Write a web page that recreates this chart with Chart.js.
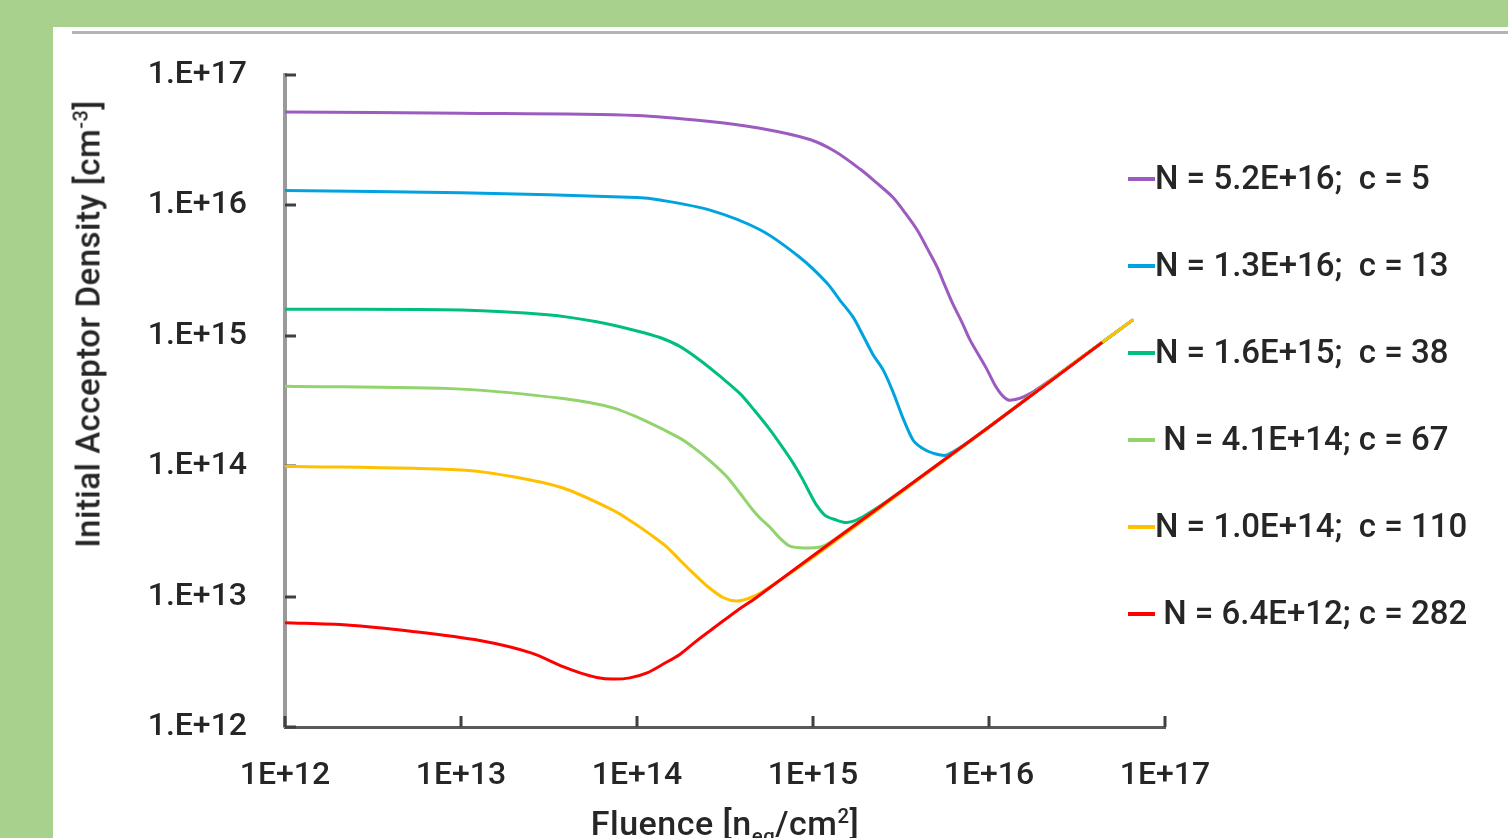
<!DOCTYPE html>
<html>
<head>
<meta charset="utf-8">
<title>Initial Acceptor Density vs Fluence</title>
<script src="https://cdn.jsdelivr.net/npm/chart.js@4.4.0/dist/chart.umd.min.js"></script>
<style>
    html, body { margin: 0; padding: 0; }
    body { width: 1508px; height: 838px; background: #a9d18e; position: relative; overflow: hidden;
           font-family: Roboto, "Open Sans", sans-serif; font-weight: 500; color: #262626; }
    #panel { position: absolute; left: 53px; top: 27px; right: 0; bottom: 0; background: #fff; }
    #rule { position: absolute; left: 72px; top: 31px; right: 0; height: 3px; background: #b4b4b4; }
    #chart { position: absolute; left: 0; top: 0; }
    #ytitle { position: absolute; left: 88px; top: 324px; transform: translate(-50%, -50%) rotate(-90deg);
              white-space: nowrap; font-size: 33px; letter-spacing: 0.5px; line-height: 1; }
    #xtitle { position: absolute; left: 725px; top: 806px; transform: translateX(-50%);
              white-space: nowrap; font-size: 34px; letter-spacing: 0.5px; line-height: 1; }
    sup, sub { font-size: 60%; line-height: 0; }
    .item { position: absolute; left: 1128px; white-space: pre; font-size: 33px; line-height: 32px; height: 32px; }
    .swatch { display: inline-block; width: 27px; height: 4px; vertical-align: middle; margin-top: -2px; }
</style>
</head>
<body>
<div id="panel"></div>
<div id="rule"></div>
<canvas id="chart" width="1508" height="838"></canvas>
<div id="ytitle">Initial Acceptor Density [cm<sup>-3</sup>]</div>
<div id="xtitle">Fluence [n<sub>eq</sub>/cm<sup>2</sup>]</div>
<div id="legend"></div>
<script>
// ejes
var fluenceTicks = [1e12, 1e13, 1e14, 1e15, 1e16, 1e17];
var xTickLabels = ['1E+12', '1E+13', '1E+14', '1E+15', '1E+16', '1E+17'];
var densityTicks = [1e12, 1e13, 1e14, 1e15, 1e16, 1e17];
var yTickLabels = ['1.E+12', '1.E+13', '1.E+14', '1.E+15', '1.E+16', '1.E+17'];

// series
var seriesNames = ['N = 5.2E+16;  c = 5', 'N = 1.3E+16;  c = 13', 'N = 1.6E+15;  c = 38',
                   ' N = 4.1E+14; c = 67', 'N = 1.0E+14;  c = 110', ' N = 6.4E+12; c = 282'];

var purpleFluence = [1e12, 1e13, 1e14, 2.6e14, 5.0e14, 9.6e14, 1.33e15, 1.85e15, 2.31e15, 2.85e15, 3.33e15, 3.9e15, 4.45e15,
                     5.07e15, 5.6e15, 6.2e15, 7.0e15, 7.8e15, 8.8e15, 9.75e15, 1.08e16, 1.2e16, 1.32e16, 1.71e16, 3e16, 6.6e16];
var purpleDensity = [5.2e16, 5.1e16, 4.9e16, 4.4e16, 3.9e16, 3.2e16, 2.6e16, 1.9e16, 1.48e16, 1.15e16, 8.8e15, 6.5e15, 4.7e15,
                     3.37e15, 2.45e15, 1.78e15, 1.28e15, 9.3e14, 7.0e14, 5.5e14, 4.2e14, 3.45e14, 3.2e14, 3.6e14, 6.1e14, 1.33e15];

var blueFluence = [1e12, 1e13, 1e14, 1.35e14, 2.6e14, 5.0e14, 8.4e14, 1.2e15, 1.42e15, 1.69e15, 1.92e15, 2.19e15, 2.5e15,
                   2.85e15, 3.24e15, 3.7e15, 4.16e15, 4.8e15, 5.8e15, 1e16, 3e16, 6.6e16];
var blueDensity = [1.3e16, 1.25e16, 1.15e16, 1.1e16, 9.2e15, 6.5e15, 4.0e15, 2.54e15, 1.88e15, 1.39e15, 1.01e15, 7.2e14, 5.5e14,
                   3.7e14, 2.35e14, 1.59e14, 1.38e14, 1.26e14, 1.22e14, 2.0e14, 6.1e14, 1.33e15];

var greenFluence = [1e12, 1e13, 3.1e13, 5.9e13, 1e14, 1.35e14, 1.75e14, 2.28e14, 2.96e14, 3.85e14, 4.68e14, 5.7e14, 6.7e14,
                    7.7e14, 8.7e14, 9.6e14, 1.05e15, 1.17e15, 1.33e15, 1.56e15, 1.92e15, 3e15, 1e16, 3e16, 6.6e16];
var greenDensity = [1.6e15, 1.58e15, 1.45e15, 1.28e15, 1.09e15, 9.7e14, 8.3e14, 6.5e14, 4.9e14, 3.6e14, 2.65e14, 1.9e14, 1.4e14,
                    1.06e14, 8.0e13, 6.2e13, 5.0e13, 4.2e13, 3.9e13, 3.7e13, 4.1e13, 6.1e13, 2.0e14, 6.1e14, 1.33e15];

var lightFluence = [1e12, 1e13, 3.8e13, 7.3e13, 1.14e14, 1.75e14, 2.08e14, 2.6e14, 3.24e14, 3.85e14, 4.56e14, 5.1e14, 5.7e14,
                    6.5e14, 7.4e14, 9.0e14, 1.1e15, 1.25e15, 3e15, 1e16, 3e16, 6.6e16];
var lightDensity = [4.1e14, 3.9e14, 3.3e14, 2.8e14, 2.2e14, 1.64e14, 1.4e14, 1.1e14, 8.3e13, 6.2e13, 4.6e13, 3.9e13, 3.4e13,
                    2.8e13, 2.44e13, 2.36e13, 2.4e13, 2.6e13, 6.1e13, 2.0e14, 6.1e14, 1.33e15];

var orangeFluence = [1e12, 1e13, 1.98e13, 3.8e13, 7.3e13, 9.5e13, 1.19e14, 1.48e14, 1.75e14, 2.08e14, 2.53e14, 3.1e14, 3.7e14,
                     4.4e14, 5.1e14, 1e15, 1e16, 3e16, 6.6e16];
var orangeDensity = [1.0e14, 9.35e13, 8.3e13, 6.8e13, 4.6e13, 3.7e13, 3.0e13, 2.4e13, 1.91e13, 1.52e13, 1.19e13, 9.8e12, 9.25e12,
                     9.8e12, 1.08e13, 2.0e13, 2.0e14, 6.1e14, 1.33e15];

var redFluence = [1e12, 2.25e12, 5.3e12, 1.28e13, 2.5e13, 3.8e13, 4.75e13, 5.9e13, 7.3e13, 9.1e13, 1.14e14, 1.41e14, 1.75e14,
                  2.19e14, 2.85e14, 3.7e14, 4.8e14, 1.05e15, 1e16, 4.4e16];
var redDensity = [6.3e12, 6.05e12, 5.4e12, 4.6e12, 3.7e12, 2.9e12, 2.6e12, 2.4e12, 2.33e12, 2.38e12, 2.6e12, 3.04e12, 3.6e12,
                  4.6e12, 6.0e12, 7.8e12, 9.9e12, 2.16e13, 2.0e14, 8.9e14];

var seriesColors = ['#9c5bbe', '#00a3e0', '#00bf7c', '#92d36e', '#ffc000', '#ff0000'];

function puntos(xs, ys) {
    return xs.map(function(x, i) { return { x: x, y: ys[i] }; });
}

var allSeries = [
    puntos(purpleFluence, purpleDensity),
    puntos(blueFluence, blueDensity),
    puntos(greenFluence, greenDensity),
    puntos(lightFluence, lightDensity),
    puntos(orangeFluence, orangeDensity),
    puntos(redFluence, redDensity)
];

var datasets = allSeries.map(function(data, i) {
    return {
        label: seriesNames[i],
        data: data,
        borderColor: seriesColors[i],
        backgroundColor: seriesColors[i],
        borderWidth: 3,
        pointRadius: 0,
        fill: false,
        tension: 0.3,
        order: allSeries.length - i   // la roja queda arriba
    };
});

// marcas de los ejes hacia adentro
var tickMarks = {
    id: 'tickMarks',
    beforeDatasetsDraw: function(chart) {
        var ctx = chart.ctx, xs = chart.scales.x, ys = chart.scales.y;
        ctx.save();
        ctx.strokeStyle = '#404040';
        ctx.lineWidth = 3;
        ctx.beginPath();
        densityTicks.forEach(function(v) {
            var py = Math.round(ys.getPixelForValue(v));
            ctx.moveTo(xs.left, py);
            ctx.lineTo(xs.left + 11, py);
        });
        fluenceTicks.forEach(function(v) {
            var px = Math.round(xs.getPixelForValue(v));
            ctx.moveTo(px, ys.bottom);
            ctx.lineTo(px, ys.bottom - 11);
        });
        ctx.stroke();
        ctx.restore();
    }
};

var tickFont = { family: 'Roboto', size: 32, weight: '500' };

new Chart(document.getElementById('chart').getContext('2d'), {
    type: 'line',
    data: { datasets: datasets },
    plugins: [tickMarks],
    options: {
        responsive: false,
        animation: false,
        devicePixelRatio: 1,
        layout: { padding: { left: 0, top: 75, right: 343, bottom: 0 } },
        plugins: { legend: { display: false }, tooltip: { enabled: false } },
        scales: {
            x: {
                type: 'logarithmic',
                position: 'bottom',
                min: 1e12,
                max: 1e17,
                grid: { display: false, drawTicks: false },
                border: { display: true, color: '#595959', width: 3 },
                afterBuildTicks: function(scale) {
                    scale.ticks = fluenceTicks.map(function(v) { return { value: v }; });
                },
                afterFit: function(scale) { scale.height = 111; },
                ticks: {
                    autoSkip: false,
                    maxRotation: 0,
                    padding: 30,
                    color: '#262626',
                    font: tickFont,
                    callback: function(value, index) { return xTickLabels[index]; }
                }
            },
            y: {
                type: 'logarithmic',
                position: 'left',
                min: 1e12,
                max: 1e17,
                grid: { display: false, drawTicks: false },
                border: { display: true, color: '#9a9a9a', width: 4 },
                afterBuildTicks: function(scale) {
                    scale.ticks = densityTicks.map(function(v) { return { value: v }; });
                },
                afterFit: function(scale) { scale.width = 285; },
                ticks: {
                    autoSkip: false,
                    padding: 38,
                    color: '#262626',
                    font: tickFont,
                    callback: function(value, index) { return yTickLabels[index]; }
                }
            }
        }
    }
});

// leyenda
var legend = document.getElementById('legend');
seriesNames.forEach(function(name, i) {
    var item = document.createElement('div');
    item.className = 'item';
    item.style.top = (178 + i * 87 - 16) + 'px';
    var sw = document.createElement('span');
    sw.className = 'swatch';
    sw.style.background = seriesColors[i];
    item.appendChild(sw);
    item.appendChild(document.createTextNode(name));
    legend.appendChild(item);
});
</script>
</body>
</html>
